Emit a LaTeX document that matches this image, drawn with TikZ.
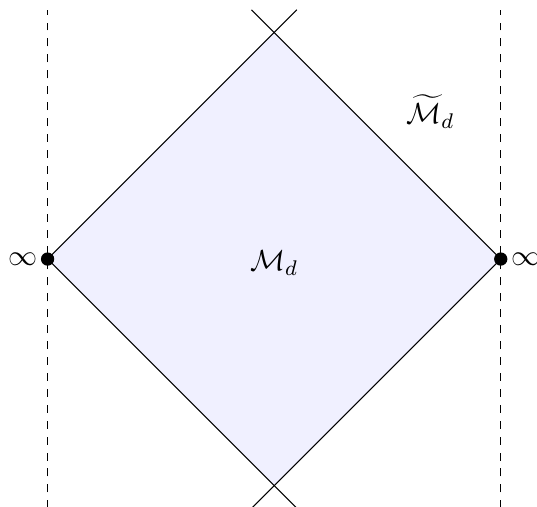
\documentclass[tikz,border=0pt]{standalone}
\usepackage{amsmath}
\usepackage{tikz}
\usetikzlibrary{positioning,calc}

\begin{document}
\begin{tikzpicture}[font=\fontsize{11}{13}\selectfont,
  dot/.style={circle,fill,inner sep=0pt,minimum size=5pt}, edge/.style={dashed}]
  \useasboundingbox (-3.63,-3.27) rectangle (3.48,3.43);
  \coordinate(w) at (-3,0); \coordinate(e) at (3,0);
  \coordinate(n) at (0,3); \coordinate(s) at (0,-3);
  \fill[blue!6](w)--(n)--(e)--(s)--cycle;
  \draw[edge](-3,-3.3)--(-3,3.3);
  \draw[edge](3,-3.3)--(3,3.3);
  \draw(w)--($(n)+(0.3,0.3)$); \draw(e)--($(n)+(-0.3,0.3)$);
  \draw(w)--($(s)+(0.3,-0.3)$); \draw(e)--($(s)+(-0.3,-0.3)$);
  \node[dot](pw) at (w){}; \node[dot](pe) at (e){};
  \node[left=0pt of pw,inner sep=1pt](iw){$\infty$};
  \node[right=0pt of pe,inner sep=1pt](ie){$\infty$};
  \node(md) at (0,-0.05){$\mathcal{M}_d$};
  \node(mt) at (2.07,1.95){$\widetilde{\mathcal{M}}_d$};
\end{tikzpicture}
\end{document}
